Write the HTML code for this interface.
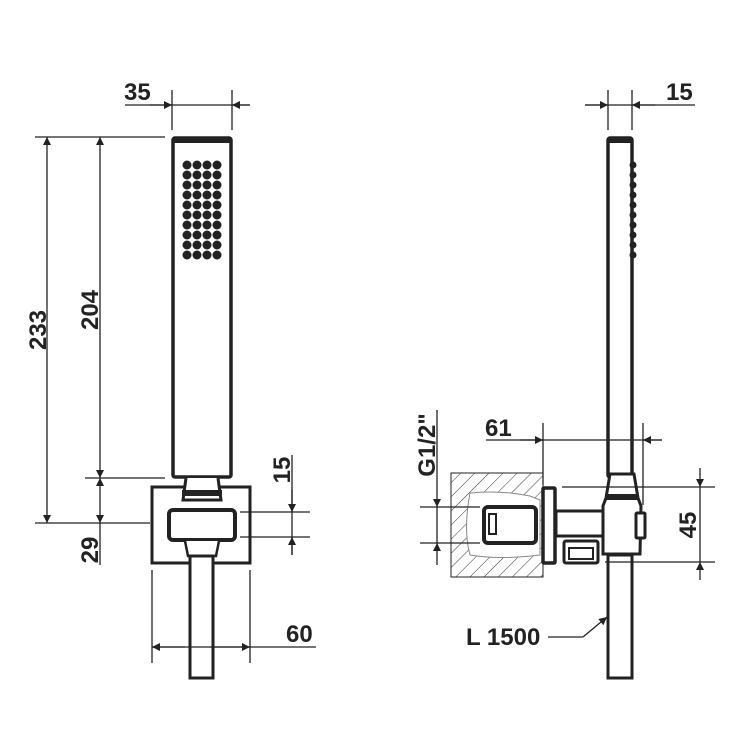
<!DOCTYPE html>
<html><head><meta charset="utf-8"><style>
html,body{margin:0;padding:0;background:#fff}
svg{display:block}
text{font-family:"Liberation Sans",Arial,sans-serif;font-weight:bold;font-size:24px;fill:#222}
</style></head><body>
<svg width="750" height="750" viewBox="0 0 750 750" xmlns="http://www.w3.org/2000/svg">
<defs>
<pattern id="h" patternUnits="userSpaceOnUse" width="10" height="10" patternTransform="rotate(45)">
<line x1="0" y1="0" x2="0" y2="10" stroke="#333" stroke-width="1"/>
</pattern>
<marker id="a" viewBox="0 0 10 10" refX="10" refY="5" markerWidth="17" markerHeight="8" markerUnits="userSpaceOnUse" orient="auto"><path d="M0,0L10,5L0,10z" fill="#222"/></marker>
</defs>
<g stroke="#222" fill="none">
<!-- LEFT VIEW -->
<rect x="173" y="138" width="58" height="339" rx="2" stroke-width="3.5"/>
<rect x="173" y="137" width="58" height="6" fill="#222" stroke="none"/>
<rect x="152" y="487" width="98" height="76" stroke-width="3"/>
<path d="M186,478 L183,500 L221,500 L218,478" stroke-width="3" fill="#fff"/>
<rect x="182" y="490" width="40" height="6" fill="#222" stroke="none"/>
<rect x="169" y="510" width="66" height="30" rx="4" stroke-width="4" fill="#fff"/>
<path d="M185,541 L188,556 L216,556 L219,541" stroke-width="2.5" fill="#fff"/>
<rect x="190" y="556" width="23" height="122" stroke-width="3" fill="#fff"/>
<!-- dims left -->
<g stroke-width="1.3">
<line x1="172" y1="90" x2="172" y2="130"/><line x1="232" y1="90" x2="232" y2="130"/>
<line x1="125" y1="105" x2="250" y2="105"/>
<line x1="150" y1="105" x2="172" y2="105" marker-end="url(#a)"/><line x1="250" y1="105" x2="232" y2="105" marker-end="url(#a)"/>
<line x1="35" y1="137" x2="165" y2="137"/><line x1="35" y1="523" x2="150" y2="523"/>
<line x1="85" y1="478" x2="165" y2="478"/>
<line x1="47" y1="300" x2="47" y2="137" marker-end="url(#a)"/><line x1="47" y1="300" x2="47" y2="523" marker-end="url(#a)"/>
<line x1="100" y1="300" x2="100" y2="137" marker-end="url(#a)"/><line x1="100" y1="300" x2="100" y2="478" marker-end="url(#a)"/>
<line x1="100" y1="500" x2="100" y2="478" marker-end="url(#a)"/><line x1="100" y1="500" x2="100" y2="523" marker-end="url(#a)"/>
<line x1="100" y1="523" x2="100" y2="565"/>
<line x1="240" y1="512" x2="310" y2="512"/><line x1="240" y1="537" x2="310" y2="537"/>
<line x1="292" y1="455" x2="292" y2="555"/>
<line x1="292" y1="490" x2="292" y2="512" marker-end="url(#a)"/><line x1="292" y1="555" x2="292" y2="537" marker-end="url(#a)"/>
<line x1="152" y1="570" x2="152" y2="663"/><line x1="250" y1="570" x2="250" y2="663"/>
<line x1="152" y1="647" x2="316" y2="647"/>
<line x1="185" y1="647" x2="152" y2="647" marker-end="url(#a)"/><line x1="210" y1="647" x2="250" y2="647" marker-end="url(#a)"/>
</g>
<!-- RIGHT VIEW -->
<rect x="608" y="138" width="24" height="339" rx="2" stroke-width="3.5"/>
<rect x="608" y="137" width="24" height="6" fill="#222" stroke="none"/>
<rect x="451" y="473" width="92" height="104" fill="url(#h)" stroke-width="1"/>
<path d="M470,493 Q500,490 530,496 L540,500 L540,555 Q500,560 470,555 Q463,530 470,493z" fill="#fff" stroke="#888" stroke-width="1"/>
<rect x="484" y="507" width="52" height="36" rx="4" stroke-width="4" fill="#fff"/>
<rect x="489" y="514" width="7" height="20" stroke-width="2"/>
<rect x="543" y="488" width="12" height="75" rx="1" stroke-width="3.5" fill="#fff"/>
<rect x="556" y="511" width="48" height="25" stroke-width="3" fill="#fff"/>
<rect x="564" y="541" width="34" height="22" rx="2" stroke-width="3" fill="#fff"/>
<rect x="569" y="548" width="24" height="11" stroke-width="2"/>
<path d="M610,474 L634,474 L638,498 L641,506 L640,554 L603,554 L603,506 L606,498z" stroke-width="3" fill="#fff"/>
<rect x="605" y="494" width="33" height="6" fill="#222" stroke="none"/>
<rect x="636" y="513" width="9" height="25" rx="1" stroke-width="3" fill="#fff"/>
<rect x="608" y="555" width="24" height="123" stroke-width="3" fill="#fff"/>
<g stroke-width="1.3">
<line x1="608" y1="90" x2="608" y2="130"/><line x1="632" y1="90" x2="632" y2="130"/>
<line x1="585" y1="105" x2="695" y2="105"/>
<line x1="585" y1="105" x2="608" y2="105" marker-end="url(#a)"/><line x1="655" y1="105" x2="632" y2="105" marker-end="url(#a)"/>
<line x1="543" y1="423" x2="543" y2="485"/><line x1="643" y1="423" x2="643" y2="505"/>
<line x1="486" y1="440" x2="662" y2="440"/>
<line x1="520" y1="440" x2="543" y2="440" marker-end="url(#a)"/><line x1="662" y1="440" x2="643" y2="440" marker-end="url(#a)"/>
<line x1="562" y1="487" x2="715" y2="487"/><line x1="605" y1="562" x2="715" y2="562"/>
<line x1="700" y1="468" x2="700" y2="487" marker-end="url(#a)"/><line x1="700" y1="580" x2="700" y2="562" marker-end="url(#a)"/>
<line x1="700" y1="487" x2="700" y2="562"/>
<line x1="420" y1="507" x2="480" y2="507"/><line x1="420" y1="543" x2="480" y2="543"/>
<line x1="437" y1="410" x2="437" y2="507" marker-end="url(#a)"/><line x1="437" y1="565" x2="437" y2="543" marker-end="url(#a)"/>
<line x1="437" y1="507" x2="437" y2="543"/>
<line x1="548" y1="637" x2="583" y2="637"/><line x1="583" y1="637" x2="607" y2="617" marker-end="url(#a)"/>
</g>
</g>
<g fill="#222">
<g id="dots">
<circle cx="187" cy="165" r="4.5"/><circle cx="197" cy="165" r="4.5"/><circle cx="207" cy="165" r="4.5"/><circle cx="217" cy="165" r="4.5"/>
</g>
<use href="#dots" y="10"/><use href="#dots" y="20"/><use href="#dots" y="30"/><use href="#dots" y="40"/>
<use href="#dots" y="50"/><use href="#dots" y="60"/><use href="#dots" y="70"/><use href="#dots" y="80"/><use href="#dots" y="90"/>
<g id="bumps"><circle cx="633" cy="165" r="3.5"/><circle cx="633" cy="175" r="3.5"/><circle cx="633" cy="185" r="3.5"/><circle cx="633" cy="195" r="3.5"/><circle cx="633" cy="205" r="3.5"/></g>
<use href="#bumps" y="50"/>
</g>
<text x="124" y="100">35</text>
<text x="666" y="100">15</text>
<text transform="translate(46,330) rotate(-90)" text-anchor="middle">233</text>
<text transform="translate(98,310) rotate(-90)" text-anchor="middle">204</text>
<text transform="translate(98,550) rotate(-90)" text-anchor="middle">29</text>
<text transform="translate(290,470) rotate(-90)" text-anchor="middle">15</text>
<text x="286" y="642">60</text>
<text x="485" y="436">61</text>
<text transform="translate(696,525) rotate(-90)" text-anchor="middle">45</text>
<text transform="translate(435,445) rotate(-90)" text-anchor="middle">G1/2"</text>
<text x="466" y="645">L 1500</text>
</svg>
</body></html>
